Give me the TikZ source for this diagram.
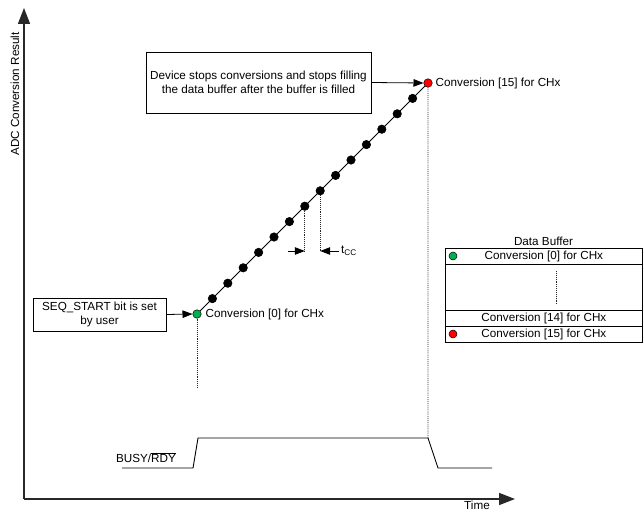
\documentclass[tikz,border=0pt]{standalone}
\usepackage{fontspec}
\setmainfont{Liberation Sans}
\usetikzlibrary{arrows.meta,calc}
\definecolor{mygreen}{RGB}{0,176,80}
\definecolor{myred}{RGB}{255,0,0}
\definecolor{axisgray}{RGB}{40,40,40}
\begin{document}
\begin{tikzpicture}[x=1pt,y=-1pt,
  font=\fontsize{11.7}{14.5}\selectfont,
  dot/.style={circle,draw=black,fill=black,inner sep=0pt,minimum size=8.5pt,line width=0.5pt},
  box/.style={draw,line width=0.8pt,align=center,inner sep=0pt},
  axis/.style={line width=1.6pt,draw=axisgray,-{Triangle[length=16pt,width=12pt]}},
  ptr/.style={line width=0.8pt,-{Triangle[length=10pt,width=7.5pt]}},
  guide/.style={densely dotted,line width=0.9pt,draw=black!85},
  row/.style={draw,line width=0.8pt,minimum width=197pt,inner sep=0pt,anchor=north west},
  ]
\useasboundingbox (0,0) rectangle (644,511);

% axes
\coordinate (O) at (24,499);
\coordinate (ytip) at (24,8);
\coordinate (xtip) at (515,499);
\draw[axis] (O) -- (ytip);
\draw[axis] (O) -- (xtip);
\node[rotate=90] (ylab) at (15,94) {ADC Conversion Result};
\node[inner sep=1pt] (xlab) at (477,505) {Time};

% conversion staircase line and dots
\foreach \i in {0,...,15} \coordinate (c\i) at ({197+15.4*\i},{314-15.4*\i});
\draw[line width=0.8pt] (c0) -- (c15);
\foreach \i in {1,...,14} \node[dot] (d\i) at (c\i) {};
\node[dot,fill=mygreen] (d0) at (c0) {};
\node[dot,fill=myred] (d15) at (c15) {};

\node[anchor=west,inner sep=3pt] (l15) at (d15.east) {Conversion [15] for CHx};
\node[anchor=west,inner sep=4pt] (l0) at (d0.east) {Conversion [0] for CHx};

% boxes
\node[box,minimum width=225pt,minimum height=61pt] (top) at (258.5,82.5)
  {Device stops conversions and stops filling\\the data buffer after the buffer is filled};
\draw[ptr] (top.east) -- (d15.west);
\node[box,minimum width=133pt,minimum height=33pt] (seq) at (99.5,314.5)
  {SEQ\_START bit is set\\by user};
\draw[ptr] (seq.east) -- (d0.west);

% guides
\coordinate (g0) at (197,387);
\draw[guide] (d0) -- (g0);

% t_CC
\coordinate (tcc) at (0,251);
\draw[guide] (d7) -- (c7 |- tcc);
\draw[guide] (d8) -- (c8 |- tcc);
\coordinate (ta) at (288,251);
\coordinate (tb) at (339,251);
\draw[ptr] (ta) -- (c7 |- tcc);
\draw[ptr] (tb) -- (c8 |- tcc);
\node[anchor=west,inner sep=2pt] (tlab) at (tb) {t\textsubscript{CC}};

% BUSY/RDY
\coordinate (b1) at (122,468);
\coordinate (b2) at (193,468);
\coordinate (b3) at (198,438);
\coordinate (b4) at (428,438);
\coordinate (b5) at (438,468);
\coordinate (b6) at (492,468);
\draw[line width=0.9pt] (b1) -- (b2) -- (b3) -- (b4) -- (b5) -- (b6);
\draw[guide] (d15) -- (b4);
\node (busy) at (146,458) {BUSY/$\overline{\mbox{RDY}}$};

% Data buffer
\node (dbt) at (543.5,241) {Data Buffer};
\node[row,minimum height=16pt] (r0) at (445,248) {Conversion [0] for CHx};
\node[row,minimum height=46pt] (rm) at (445,264) {};
\node[row,minimum height=16pt] (r14) at (445,310) {Conversion [14] for CHx};
\node[row,minimum height=16pt] (r15) at (445,326) {Conversion [15] for CHx};
\coordinate (m1) at (556,271);
\coordinate (m2) at (556,304);
\draw[guide] (m1) -- (m2);
\node[dot,fill=mygreen,minimum size=8pt] (bg) at (453,256) {};
\node[dot,fill=myred,minimum size=8pt] (br) at (453,334) {};
\end{tikzpicture}
\end{document}
